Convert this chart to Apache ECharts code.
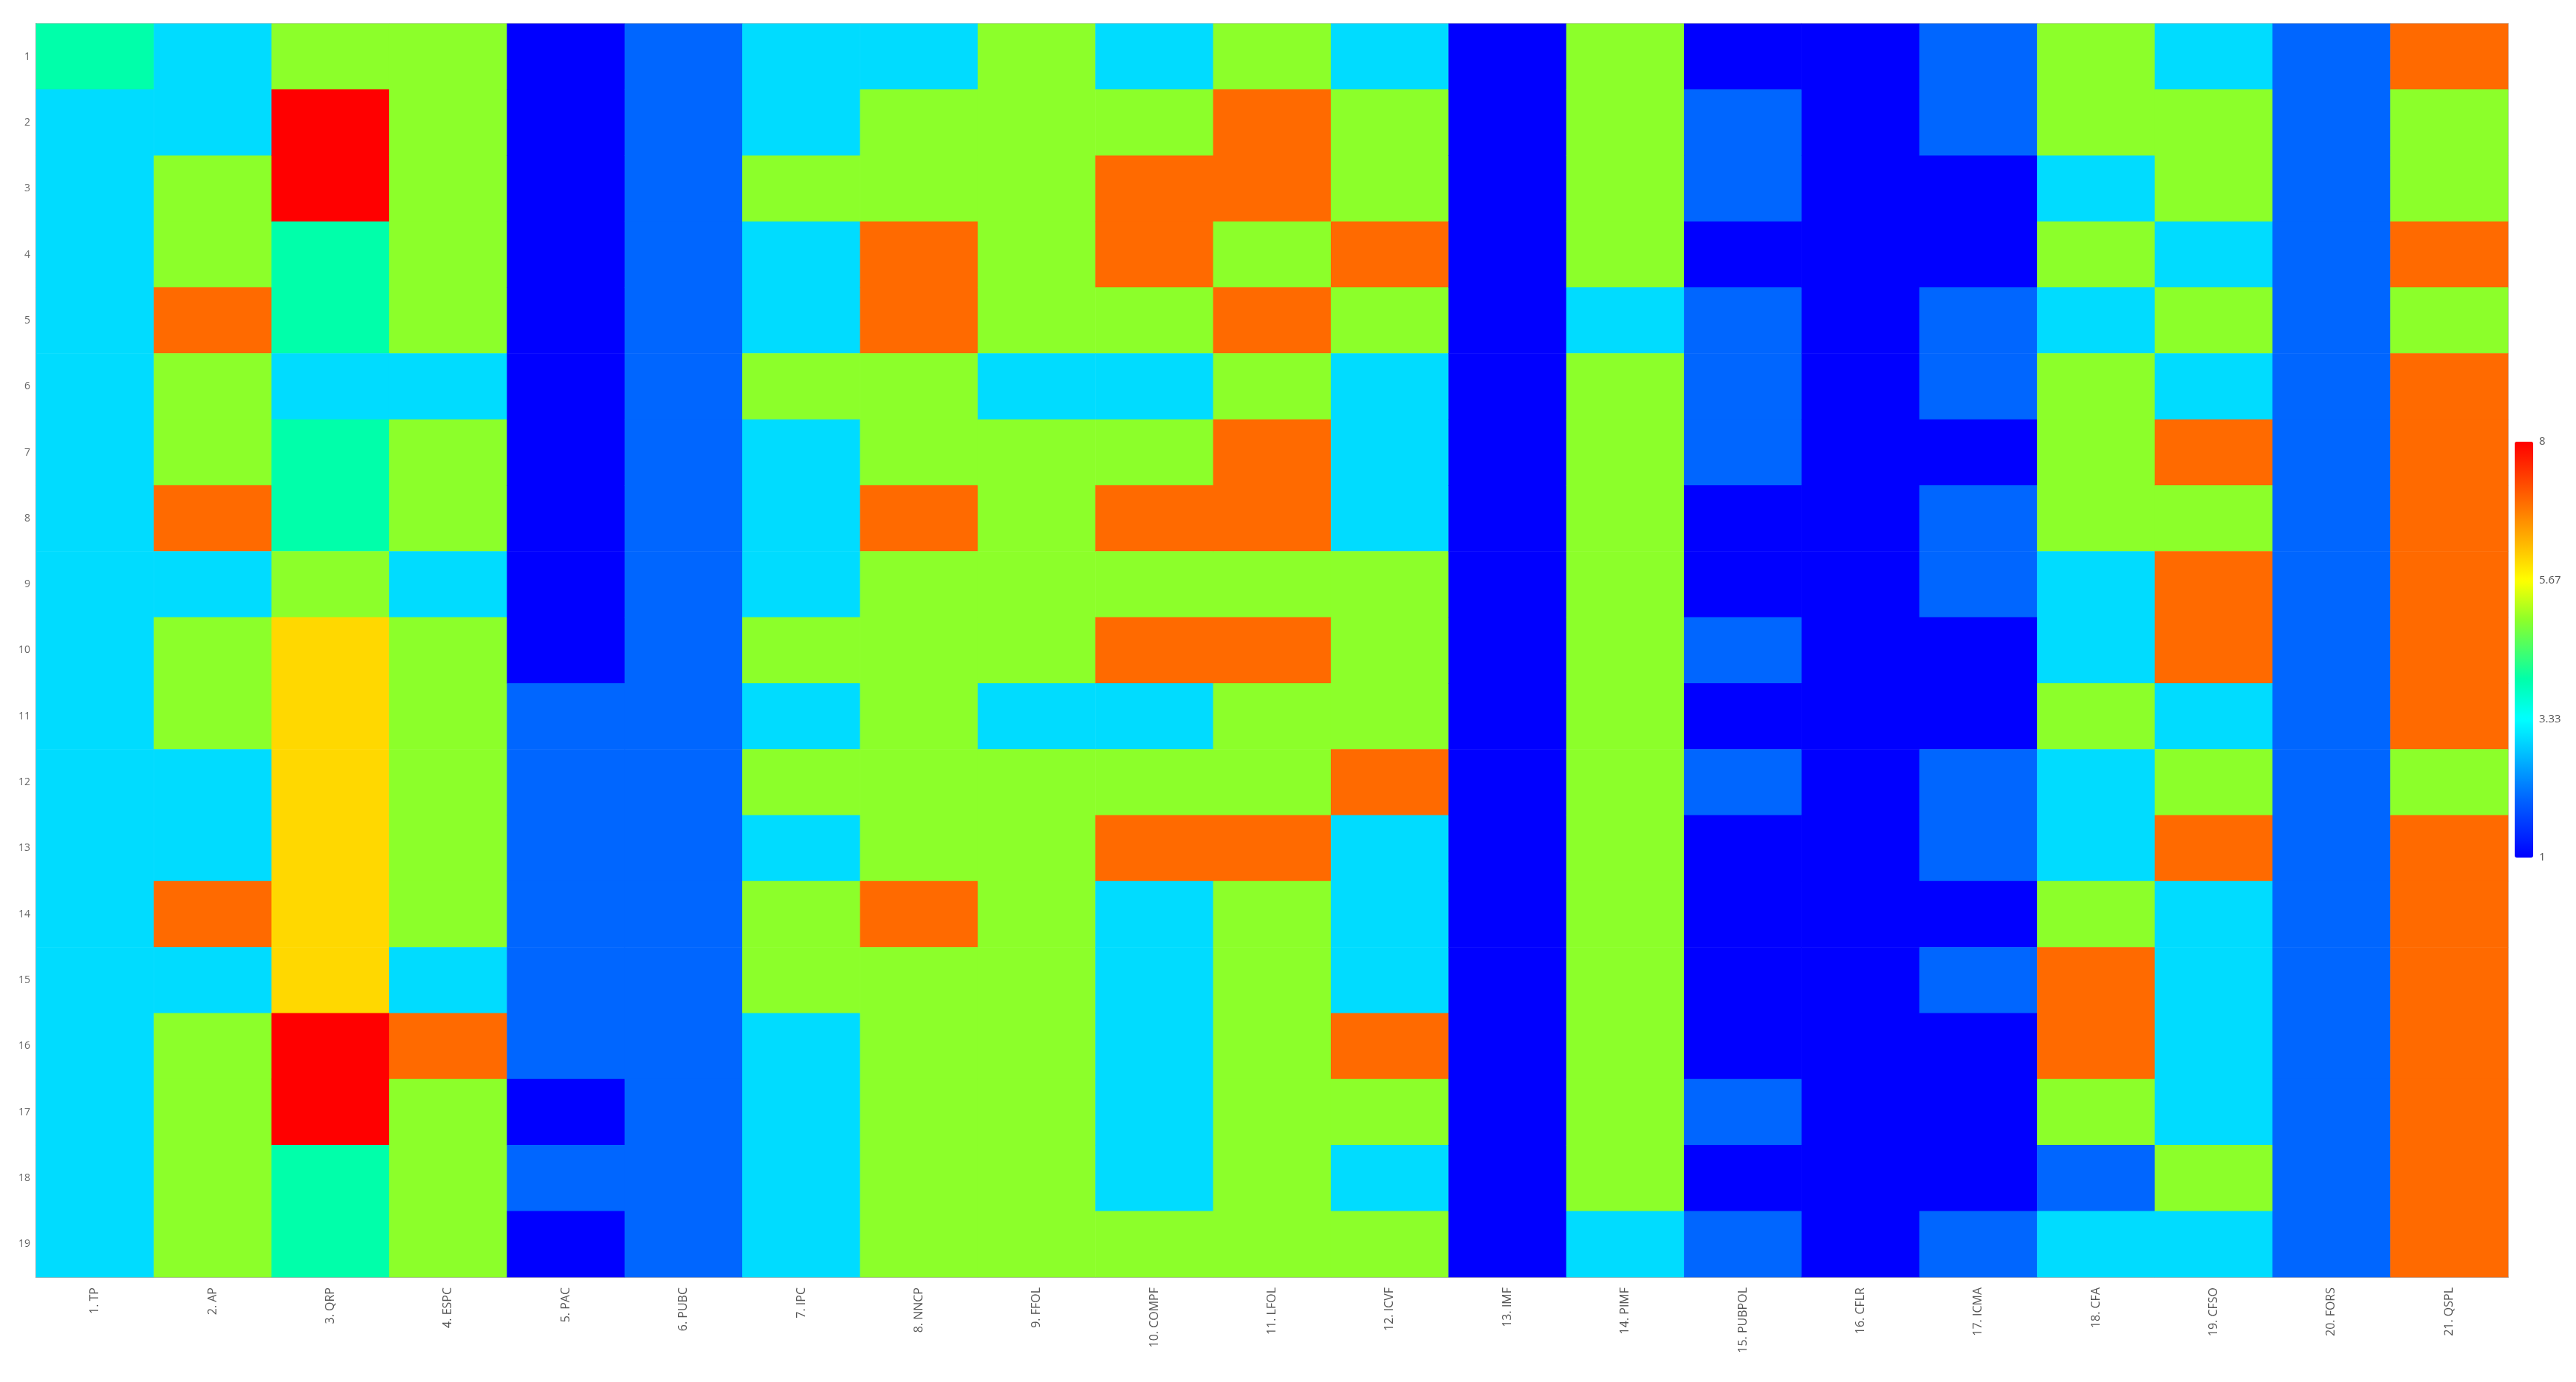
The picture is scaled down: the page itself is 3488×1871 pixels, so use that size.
<!DOCTYPE html>
<html>
<head>
<meta charset="utf-8">
<script src="https://cdn.jsdelivr.net/npm/echarts@6/dist/echarts.min.js"></script>
<style>
html,body{margin:0;padding:0;background:#fff;}
#chart{width:3488px;height:1871px;}
</style>
</head>
<body>
<div id="chart"></div>
<script>
// Categories
const xLabels = ['1. TP','2. AP','3. QRP','4. ESPC','5. PAC','6. PUBC','7. IPC','8. NNCP','9. FFOL','10. COMPF','11. LFOL','12. ICVF','13. IMF','14. PIMF','15. PUBPOL','16. CFLR','17. ICMA','18. CFA','19. CFSO','20. FORS','21. QSPL'];
const yLabels = ['1','2','3','4','5','6','7','8','9','10','11','12','13','14','15','16','17','18','19'];
const colorbarTicks = ['1','3.33','5.67','8'];

// Values per column (rows 1..19, top to bottom)
const colTP     = [4,3,3,3,3,3,3,3,3,3,3,3,3,3,3,3,3,3,3];
const colAP     = [3,3,5,5,7,5,5,7,3,5,5,3,3,7,3,5,5,5,5];
const colQRP    = [5,8,8,4,4,3,4,4,5,6,6,6,6,6,6,8,8,4,4];
const colESPC   = [5,5,5,5,5,3,5,5,3,5,5,5,5,5,3,7,5,5,5];
const colPAC    = [1,1,1,1,1,1,1,1,1,1,2,2,2,2,2,2,1,2,1];
const colPUBC   = [2,2,2,2,2,2,2,2,2,2,2,2,2,2,2,2,2,2,2];
const colIPC    = [3,3,5,3,3,5,3,3,3,5,3,5,3,5,5,3,3,3,3];
const colNNCP   = [3,5,5,7,7,5,5,7,5,5,5,5,5,7,5,5,5,5,5];
const colFFOL   = [5,5,5,5,5,3,5,5,5,5,3,5,5,5,5,5,5,5,5];
const colCOMPF  = [3,5,7,7,5,3,5,7,5,7,3,5,7,3,3,3,3,3,5];
const colLFOL   = [5,7,7,5,7,5,7,7,5,7,5,5,7,5,5,5,5,5,5];
const colICVF   = [3,5,5,7,5,3,3,3,5,5,5,7,3,3,3,7,5,3,5];
const colIMF    = [1,1,1,1,1,1,1,1,1,1,1,1,1,1,1,1,1,1,1];
const colPIMF   = [5,5,5,5,3,5,5,5,5,5,5,5,5,5,5,5,5,5,3];
const colPUBPOL = [1,2,2,1,2,2,2,1,1,2,1,2,1,1,1,1,2,1,2];
const colCFLR   = [1,1,1,1,1,1,1,1,1,1,1,1,1,1,1,1,1,1,1];
const colICMA   = [2,2,1,1,2,2,1,2,2,1,1,2,2,1,2,1,1,1,2];
const colCFA    = [5,5,3,5,3,5,5,5,3,3,5,3,3,5,7,7,5,2,3];
const colCFSO   = [3,5,5,3,5,3,7,5,7,7,3,5,7,3,3,3,3,5,3];
const colFORS   = [2,2,2,2,2,2,2,2,2,2,2,2,2,2,2,2,2,2,2];
const colQSPL   = [7,5,5,7,5,7,7,7,7,7,7,5,7,7,7,7,7,7,7];

const columns = [colTP,colAP,colQRP,colESPC,colPAC,colPUBC,colIPC,colNNCP,colFFOL,colCOMPF,colLFOL,colICVF,colIMF,colPIMF,colPUBPOL,colCFLR,colICMA,colCFA,colCFSO,colFORS,colQSPL];

// Colour ramp (stops every 1/3 from 1 to 8)
const rampColors = ['#0000ff','#0022ff','#0044ff','#0066ff','#008dff','#00b5ff','#00dcff','#00ffff','#00ffd4','#00ffaa','#2fff7f','#5dff55','#8cff2a','#c6ff15','#ffff00','#ffd800','#ffb300','#ff8f00','#ff6a00','#ff4700','#ff2300','#ff0000'];

const data = [];
columns.forEach((col, i) => col.forEach((v, j) => data.push([i, j, v])));

const chart = echarts.init(document.getElementById('chart'));
chart.setOption({
  backgroundColor: '#ffffff',
  animation: false,
  textStyle: { fontFamily: 'Open Sans, Noto Sans, sans-serif' },
  grid: [
    { left: 49, right: 92, top: 32, bottom: 142, show: true, borderColor: '#c8c8c8', borderWidth: 2, containLabel: false },
    { left: 3405, top: 598, width: 25, height: 563, show: false }
  ],
  xAxis: [
    {
      type: 'category', data: xLabels, gridIndex: 0,
      axisLine: { show: true, lineStyle: { color: '#b0b0b0', width: 2 } },
      axisTick: { show: false },
      splitLine: { show: false },
      axisLabel: { rotate: 90, fontSize: 16, color: '#555', margin: 14, interval: 0 }
    },
    { type: 'value', gridIndex: 1, show: false }
  ],
  yAxis: [
    {
      type: 'category', data: yLabels, inverse: true, gridIndex: 0,
      axisLine: { show: true, lineStyle: { color: '#b0b0b0', width: 2 } },
      axisTick: { show: false },
      splitLine: { show: false },
      axisLabel: { fontSize: 14, color: '#666', margin: 8, interval: 0 }
    },
    {
      type: 'category', data: colorbarTicks, gridIndex: 1, boundaryGap: false, position: 'right',
      axisLine: { show: false }, axisTick: { show: false }, splitLine: { show: false },
      axisLabel: { fontSize: 15, color: '#555', margin: 8, interval: 0 }
    }
  ],
  visualMap: [{
    type: 'continuous', min: 1, max: 8, seriesIndex: 0,
    calculable: false, realtime: false, hoverLink: false,
    orient: 'vertical', left: 3405, top: 598, padding: 0,
    itemWidth: 25, itemHeight: 563,
    inRange: { color: rampColors }
  }],
  series: [{
    type: 'heatmap', xAxisIndex: 0, yAxisIndex: 0,
    data: data,
    itemStyle: { borderWidth: 0 },
    emphasis: { disabled: true }
  }]
});
</script>
</body>
</html>
